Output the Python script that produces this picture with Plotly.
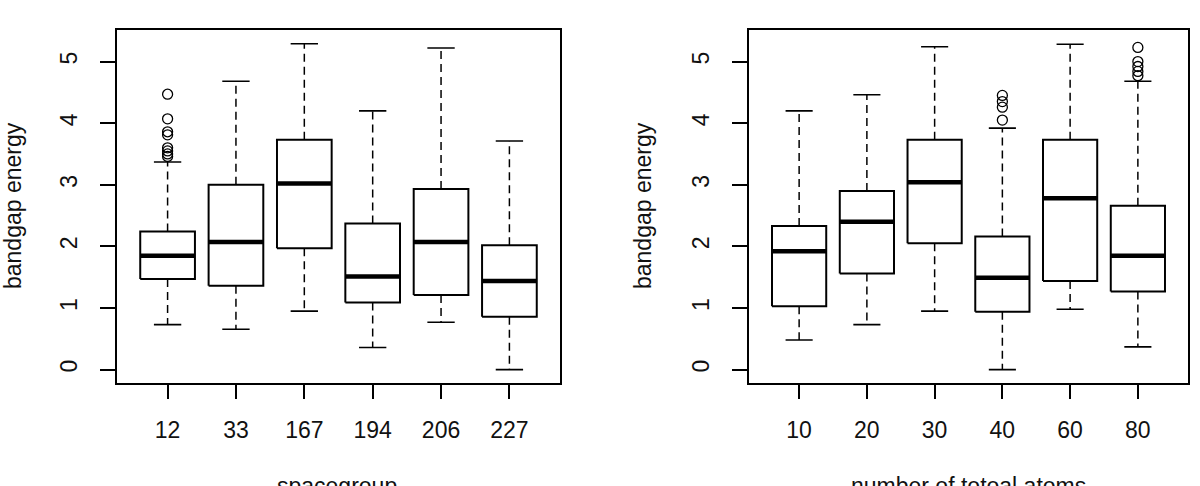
import plotly.graph_objects as go

# ---- data: spacegroup panel ----
sg_labels = ["12", "33", "167", "194", "206", "227"]
sg_lower = [0.73, 0.655, 0.95, 0.36, 0.77, 0.0]
sg_q1 = [1.47, 1.36, 1.97, 1.09, 1.21, 0.86]
sg_median = [1.85, 2.07, 3.02, 1.51, 2.07, 1.44]
sg_q3 = [2.24, 3.00, 3.73, 2.37, 2.93, 2.02]
sg_upper = [3.37, 4.68, 5.29, 4.20, 5.22, 3.71]
sg_outliers = [[4.47, 4.07, 3.86, 3.81, 3.60, 3.55, 3.50, 3.46], [], [], [], [], []]

# ---- data: number of atoms panel ----
na_labels = ["10", "20", "30", "40", "60", "80"]
na_lower = [0.48, 0.73, 0.95, 0.0, 0.98, 0.37]
na_q1 = [1.03, 1.56, 2.05, 0.94, 1.44, 1.27]
na_median = [1.92, 2.40, 3.04, 1.49, 2.78, 1.85]
na_q3 = [2.33, 2.90, 3.73, 2.16, 3.73, 2.66]
na_upper = [4.20, 4.46, 5.24, 3.92, 5.28, 4.68]
na_outliers = [[], [], [], [4.45, 4.35, 4.26, 4.05], [], [5.23, 5.00, 4.92, 4.84, 4.77]]

FONT = "Liberation Sans, Arial, sans-serif"
BW = 0.4   # half box width
CW = 0.2   # half cap width

fig = go.Figure()


def add_panel(lo, q1, med, q3, hi, outs, xa, ya):
    bx, by, mx, my, wx, wy, cx, cy, ox, oy = [], [], [], [], [], [], [], [], [], []
    for i in range(len(med)):
        p = i + 1
        bx += [p - BW, p + BW, p + BW, p - BW, p - BW, None]
        by += [q1[i], q1[i], q3[i], q3[i], q1[i], None]
        mx += [p - BW, p + BW, None]
        my += [med[i], med[i], None]
        wx += [p, p, None, p, p, None]
        wy += [q3[i], hi[i], None, q1[i], lo[i], None]
        cx += [p - CW, p + CW, None, p - CW, p + CW, None]
        cy += [hi[i], hi[i], None, lo[i], lo[i], None]
        for v in outs[i]:
            ox.append(p)
            oy.append(v)
    common = dict(xaxis=xa, yaxis=ya, showlegend=False, hoverinfo="skip")
    fig.add_trace(go.Scatter(x=wx, y=wy, mode="lines",
                             line=dict(color="black", width=1.5, dash="8px,5px"), **common))
    fig.add_trace(go.Scatter(x=cx, y=cy, mode="lines",
                             line=dict(color="black", width=1.6), **common))
    fig.add_trace(go.Scatter(x=bx, y=by, mode="lines",
                             line=dict(color="black", width=2), **common))
    fig.add_trace(go.Scatter(x=mx, y=my, mode="lines",
                             line=dict(color="black", width=4.5), **common))
    fig.add_trace(go.Scatter(x=ox, y=oy, mode="markers",
                             marker=dict(symbol="circle-open", size=10, color="black",
                                         line=dict(width=1.3, color="black")), **common))


add_panel(sg_lower, sg_q1, sg_median, sg_q3, sg_upper, sg_outliers, "x", "y")
add_panel(na_lower, na_q1, na_median, na_q3, na_upper, na_outliers, "x2", "y2")

H = 486.0
W = 1200.0
ydom = [1 - 382.7 / H, 1 - 30 / H]

xcommon = dict(range=[0.26, 6.74], tickvals=[1, 2, 3, 4, 5, 6], showgrid=False, zeroline=False,
               showline=True, mirror=True, linecolor="black", linewidth=2,
               ticks="outside", ticklen=14, tickwidth=1.5, tickcolor="black",
               tickfont=dict(family=FONT, size=23, color="#111"), ticklabelstandoff=12)
ycommon = dict(range=[-0.212, 5.512], tickvals=[0, 1, 2, 3, 4, 5], showgrid=False, zeroline=False,
               showline=True, mirror=True, linecolor="black", linewidth=2,
               ticks="outside", ticklen=15, tickwidth=1.5, tickcolor="black", tickangle=-90,
               tickfont=dict(family=FONT, size=23, color="#111"), ticklabelstandoff=14,
               domain=ydom)

fig.update_layout(
    width=1200, height=486,
    margin=dict(l=0, r=0, t=0, b=0),
    paper_bgcolor="white", plot_bgcolor="white",
    xaxis=dict(domain=[117 / W, 560 / W], ticktext=sg_labels, anchor="y", **xcommon),
    yaxis=dict(anchor="x", **ycommon),
    xaxis2=dict(domain=[749 / W, 1188 / W], ticktext=na_labels, anchor="y2", **xcommon),
    yaxis2=dict(anchor="x2", **ycommon),
    annotations=[
        dict(text="bandgap energy", xref="paper", yref="paper", x=13 / W, y=(H - 206) / H,
             textangle=-90, showarrow=False, xanchor="center", yanchor="middle",
             font=dict(family=FONT, size=23, color="#111")),
        dict(text="bandgap energy", xref="paper", yref="paper", x=643 / W, y=(H - 206) / H,
             textangle=-90, showarrow=False, xanchor="center", yanchor="middle",
             font=dict(family=FONT, size=23, color="#111")),
        dict(text="spacegroup", xref="paper", yref="paper", x=337 / W, y=(H - 471) / H,
             showarrow=False, xanchor="center", yanchor="top",
             font=dict(family=FONT, size=23, color="#111")),
        dict(text="number of totoal atoms", xref="paper", yref="paper", x=968 / W, y=(H - 471) / H,
             showarrow=False, xanchor="center", yanchor="top",
             font=dict(family=FONT, size=23, color="#111")),
    ],
)

fig.write_html("out.html")
